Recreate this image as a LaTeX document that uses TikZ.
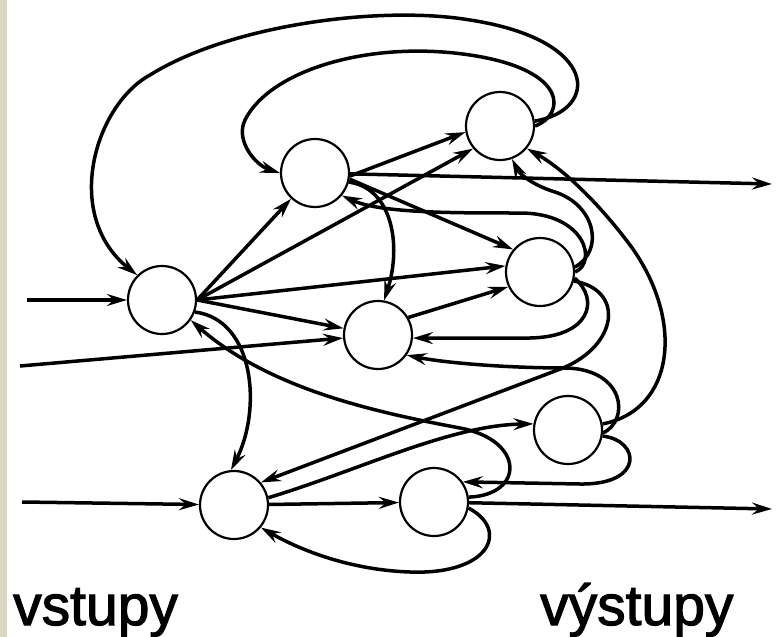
\documentclass[tikz,border=0pt]{standalone}
\usepackage{fontspec}
\setmainfont{Liberation Sans}
\newfontfamily\lblfont{Liberation Sans}[BoldFont=Liberation Sans,BoldFeatures={FakeBold=2}]
\usetikzlibrary{arrows.meta}
\definecolor{beigestrip}{RGB}{221,214,197}
\begin{document}
\begin{tikzpicture}[x=1pt,y=-1pt,
  neuron/.style={draw,circle,minimum size=68pt,inner sep=0pt,line width=2.2pt},
  link/.style={line width=3.5pt,-{Stealth[length=20pt,width=12pt,inset=7pt]}},
  lbl/.style={font=\lblfont\bfseries\fontsize{57}{60}\selectfont,anchor=base west,inner sep=0pt}]
\useasboundingbox (0,0) rectangle (777,637);
\fill[beigestrip] (0,0) rectangle (7,637);

\node[neuron] (A) at (162,300) {};
\node[neuron] (B) at (315,173) {};
\node[neuron] (C) at (500,126) {};
\node[neuron] (D) at (540,272) {};
\node[neuron] (E) at (378,335) {};
\node[neuron] (F) at (568,430) {};
\node[neuron] (G) at (234,505) {};
\node[neuron] (H) at (434,502) {};

\coordinate (in1) at (27,300);
\coordinate (in2) at (20,366);
\coordinate (in3) at (22,502);
\coordinate (out1) at (772,184);
\coordinate (out2) at (772,509);

% inputs and outputs
\draw[link] (in1) -- (A);
\draw[link] (in2) -- (E);
\draw[link] (in3) -- (G);
\draw[link] (B) -- (out1);
\draw[link] (H) -- (out2);

% from A
\draw[link] (A.east) -- (B);
\draw[link] (A.east) -- (C.220);
\draw[link] (A.east) -- (D.170);
\draw[link] (A.east) -- (E);
\draw[link] (A.-20) .. controls (255,320) and (262,410) .. (G.95);

% from C (loops over the top)
\draw[link] (C.8) .. controls (600,110) and (600,40) .. (470,20)
  .. controls (380,5) and (230,25) .. (150,75)
  .. controls (95,105) and (62,215) .. (A.135);
\draw[link] (C.0) .. controls (565,115) and (570,70) .. (470,55)
  .. controls (370,40) and (270,70) .. (245,120)
  .. controls (235,140) and (255,165) .. (B.180);

% from B
\draw[link] (B.-5) -- (C.190);
\draw[link] (B.-10) -- (D.140);
\draw[link] (B.-15) .. controls (392,188) and (402,245) .. (E.80);

% from D
\draw[link] (D.0) .. controls (598,262) and (585,213) .. (520,213)
  .. controls (450,213) and (380,213) .. (B.-40);
\draw[link] (D.8) .. controls (605,250) and (595,205) .. (555,192)
  .. controls (535,186) and (520,175) .. (C.-70);
\draw[link] (D.-10) .. controls (600,300) and (590,337) .. (530,338) -- (E.-5);
\draw[link] (D.-15) .. controls (625,290) and (618,345) .. (563,368) -- (G.40);

% from E
\draw[link] (E.30) -- (D.205);

% from F
\draw[link] (F.10) .. controls (675,410) and (685,320) .. (630,245)
  .. controls (600,205) and (565,170) .. (C.-40);
\draw[link] (F.-5) .. controls (630,420) and (625,370) .. (567,368)
  .. controls (500,368) and (440,362) .. (E.-35);
\draw[link] (F.-10) .. controls (640,440) and (645,485) .. (580,484) -- (H.35);

% from G
\draw[link] (G) -- (H);
\draw[link] (G.12) .. controls (360,470) and (450,425) .. (F.170);

% from H
\draw[link] (H.8) .. controls (525,495) and (525,440) .. (460,428)
  .. controls (380,413) and (270,390) .. (A.-35);
\draw[link] (H.-10) .. controls (510,530) and (490,575) .. (410,572)
  .. controls (350,570) and (300,550) .. (G.-40);

\node[lbl] (vin) at (13,625) {vstupy};
\node[lbl] (vout) at (540,625) {výstupy};
\end{tikzpicture}
\end{document}
